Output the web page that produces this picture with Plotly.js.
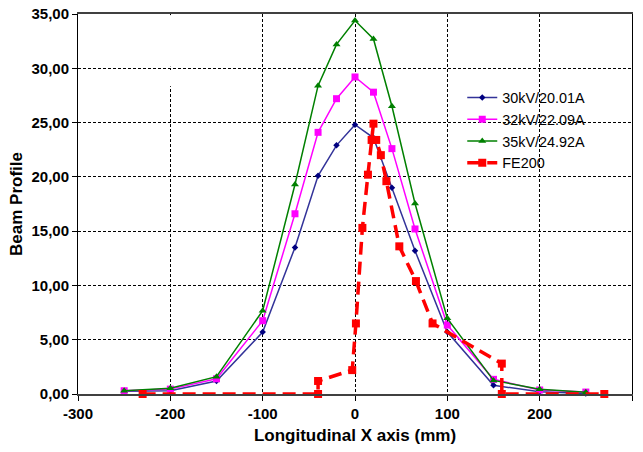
<!DOCTYPE html>
<html>
<head>
<meta charset="utf-8">
<script src="https://cdn.plot.ly/plotly-3.0.1.min.js"></script>
<style>html,body{margin:0;padding:0;background:#fff;}#chart{width:643px;height:452px;}</style>
</head>
<body>
<div id="chart"></div>
<script>
// Data
const xKV = [-250, -200, -150, -100, -65, -40, -20, 0, 20, 40, 65, 100, 150, 200, 250];
const y30kV = [0.25, 0.3, 1.2, 5.7, 13.5, 20.1, 22.9, 24.8, 23.6, 19.0, 13.2, 5.7, 0.8, 0.2, 0.05];
const y32kV = [0.3, 0.45, 1.4, 6.75, 16.6, 24.1, 27.2, 29.2, 27.8, 22.6, 15.2, 6.35, 1.35, 0.37, 0.18];
const y35kV = [0.3, 0.52, 1.6, 7.67, 19.3, 28.4, 32.2, 34.4, 32.7, 26.5, 17.55, 6.97, 1.25, 0.43, 0.16];
const xFE200 = [-230, -40, -40, -3, 1, 8, 14, 20, 18, 23, 28, 34, 48, 66, 84, 159, 159, 270];
const yFE200 = [0, 0, 1.2, 2.2, 6.5, 15.3, 20.2, 24.9, 23.4, 23.4, 22.0, 19.6, 13.6, 10.4, 6.5, 2.8, 0, 0];
const seriesNames = ['30kV/20.01A', '32kV/22.09A', '35kV/24.92A', 'FE200'];
const xTickVals = [-300, -200, -100, 0, 100, 200, 300];
const xTickLabels = ['-300', '-200', '-100', '0', '100', '200', '300'];
const yTickVals = [0, 5, 10, 15, 20, 25, 30, 35];
const yTickLabels = ['0,00', '5,00', '10,00', '15,00', '20,00', '25,00', '30,00', '35,00'];

const FONT = 'Liberation Sans, Arial, sans-serif';

const traces = [
  {x: xKV, y: y30kV, name: seriesNames[0], mode: 'lines+markers', cliponaxis: false,
   line: {color: '#333399', width: 1.5}, marker: {symbol: 'diamond', size: 5, color: '#000080'}},
  {x: xKV, y: y32kV, name: seriesNames[1], mode: 'lines+markers', cliponaxis: false,
   line: {color: '#FF00FF', width: 1.5}, marker: {symbol: 'square', size: 7, color: '#FF00FF'}},
  {x: xKV, y: y35kV, name: seriesNames[2], mode: 'lines+markers', cliponaxis: false,
   line: {color: '#008000', width: 1.5}, marker: {symbol: 'triangle-up', size: 7, color: '#008000'}},
  {x: xFE200, y: yFE200, name: seriesNames[3], mode: 'lines+markers', cliponaxis: false,
   line: {color: '#FF0000', width: 3.5, dash: '13px,7px'}, marker: {symbol: 'square', size: 8, color: '#FF0000'}}
];

const layout = {
  width: 643, height: 452,
  margin: {l: 78, r: 11, t: 14, b: 58},
  paper_bgcolor: '#ffffff', plot_bgcolor: '#ffffff',
  font: {family: FONT, color: '#000'},
  showlegend: true,
  legend: {
    x: 0.6936, y: 0.822, xanchor: 'left', yanchor: 'top',
    bgcolor: 'rgba(255,255,255,0)', borderwidth: 0,
    font: {family: FONT, size: 14.4, color: '#000'},
    tracegroupgap: 0
  },
  xaxis: {
    range: [-300, 300], tickmode: 'array', tickvals: xTickVals, ticktext: xTickLabels,
    showgrid: true, gridcolor: '#000', griddash: '3px,2px', gridwidth: 1,
    zeroline: false, showline: true, linecolor: '#404040', linewidth: 2, mirror: true,
    ticks: 'outside', ticklen: 5, tickcolor: '#000',
    tickfont: {family: FONT, size: 15, weight: 'bold', color: '#000'},
    title: {text: 'Longitudinal X axis (mm)', font: {family: FONT, size: 17, weight: 'bold', color: '#000'}, standoff: 8}
  },
  yaxis: {
    range: [0, 35], tickmode: 'array', tickvals: yTickVals, ticktext: yTickLabels,
    showgrid: true, gridcolor: '#000', griddash: '3px,2px', gridwidth: 1,
    zeroline: false, showline: true, linecolor: '#000', linewidth: 1, mirror: true,
    ticks: 'outside', ticklen: 5, tickcolor: '#000',
    tickfont: {family: FONT, size: 15, weight: 'bold', color: '#000'},
    title: {text: 'Beam Profile', font: {family: FONT, size: 17, weight: 'bold', color: '#000'}, standoff: 4}
  },
  shapes: [
    // white legend background (over gridlines, under traces)
    {type: 'rect', xref: 'paper', yref: 'paper', x0: 0.648, x1: 0.964, y0: 0.537, y1: 0.818,
     fillcolor: '#ffffff', line: {width: 0}, layer: 'between'},
    // gap in the -200 gridline near the top
    {type: 'line', xref: 'x', yref: 'y', x0: -200, x1: -200, y0: 30.15, y1: 34.9,
     line: {color: '#ffffff', width: 2}, layer: 'between'},
    {type: 'line', xref: 'x', yref: 'y', x0: -200, x1: -200, y0: 28.35, y1: 29.85,
     line: {color: '#ffffff', width: 2}, layer: 'between'}
  ]
};

Plotly.newPlot('chart', traces, layout, {displayModeBar: false, staticPlot: true});
</script>
</body>
</html>
